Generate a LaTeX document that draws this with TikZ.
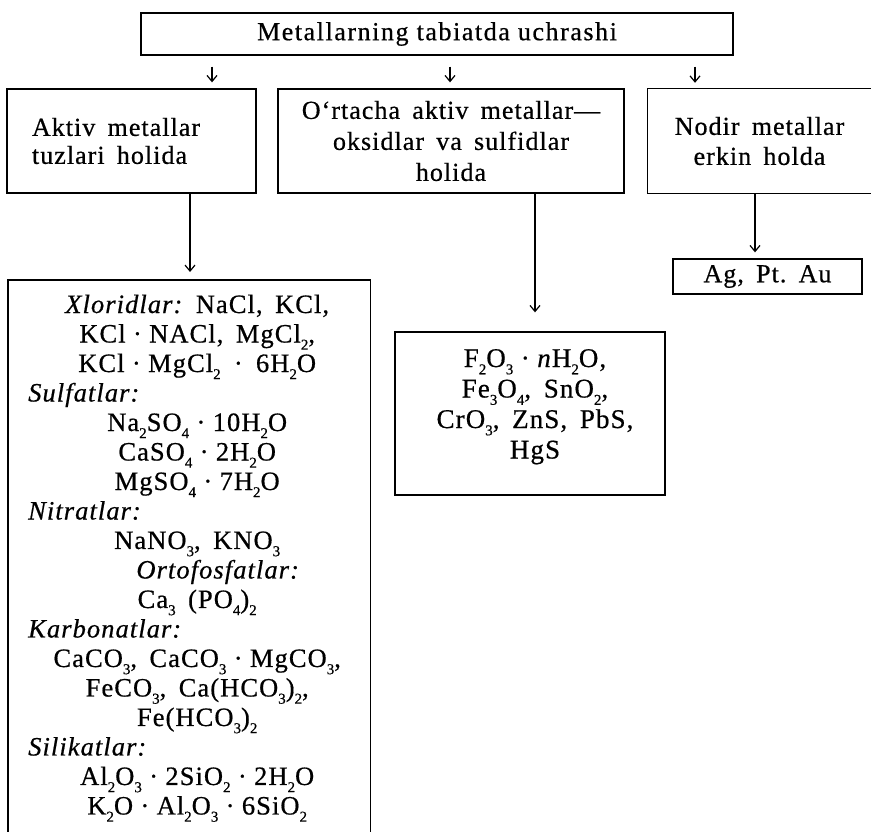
\documentclass[tikz,border=0pt]{standalone}
\usepackage{fontspec}
\setmainfont{Liberation Serif}[LetterSpace=4,FakeBold=0.6]
\newfontfamily\titlefont{Liberation Serif}[LetterSpace=6,FakeBold=0.6]
\usetikzlibrary{arrows.meta}
\newcommand\sbs[1]{\raisebox{-0.27em}{\fontsize{15}{15}\selectfont #1}}
\newcommand\dt{\;·\;}
\newcommand\wsp{\spaceskip=.47em\xspaceskip=.47em\relax}
\newcommand\fsz[2]{\fontsize{#1}{#2}\selectfont\wsp}
\tikzset{
  line/.style={line width=1.3pt},
  box/.style={draw, line, inner sep=0pt, font=\fsz{26}{30}},
  plain/.style={inner sep=0pt, font=\fsz{26}{30}},
  arr/.style={-{Straight Barb[length=6pt,width=10pt]}, line width=1.2pt},
}
\begin{document}
\begin{tikzpicture}[x=1pt,y=-1pt]
\useasboundingbox (0,0) rectangle (871,832);
% top
\node[box, minimum width=592pt, minimum height=42pt, font=\titlefont\fontsize{26}{30}\selectfont] (top) at (437,34) {Metallarning tabiatda uchrashi};
% second row
\node[box, minimum width=249pt, minimum height=104pt, text width=199pt, align=left, font=\fsz{26}{28}] (aktiv) at (131.5,141) {\wsp Aktiv metallar\\tuzlari holida};
\node[box, minimum width=346pt, minimum height=104pt, align=center, font=\fsz{26}{31}] (ortacha) at (451,141) {O‘rtacha aktiv metallar—\\oksidlar va sulfidlar\\holida};
\node[plain, minimum width=223pt, minimum height=104pt, align=center] (nodir) at (759.5,141) {Nodir metallar\\erkin holda};
\draw[line] (nodir.north east) -- (nodir.north west) -- (nodir.south west) -- (nodir.south east);
% third row
\node[box, minimum width=189pt, minimum height=35pt] (noble) at (767.5,276.5) {Ag, Pt. Au};
\node[box, minimum width=270pt, minimum height=163pt] (oxides) at (530,413.5) {};
\node[inner sep=0pt, text width=262pt, align=center, anchor=base, font=\fsz{27}{30.5}] (oxlist) at (535,367)
  {\wsp F\sbs{2}O\sbs{3}\dt\textit{n}H\sbs{2}O,\\Fe\sbs{3}O\sbs{4}, SnO\sbs{2},\\CrO\sbs{3}, ZnS, PbS,\\HgS};
\node[inner sep=0pt, minimum width=362pt, minimum height=552pt, anchor=north west] (salts) at (8,280) {};
\draw[line] (salts.south west) -- (salts.north west) -- (salts.north east) -- (salts.south east);
\node[inner sep=0pt, text width=338pt, align=center, anchor=base west, font=\fsz{26.5}{29.5}] (saltlist) at (28,313) {\wsp
\textit{Xloridlar:} NaCl, KCl,\\
KCl\dt NACl, MgCl\sbs{2},\\
KCl\dt MgCl\sbs{2}\enspace·\enspace 6H\sbs{2}O\\
\makebox[\linewidth][l]{\textit{Sulfatlar:}}\\
Na\sbs{2}SO\sbs{4}\dt 10H\sbs{2}O\\
CaSO\sbs{4}\dt 2H\sbs{2}O\\
MgSO\sbs{4}\dt 7H\sbs{2}O\\
\makebox[\linewidth][l]{\textit{Nitratlar:}}\\
NaNO\sbs{3}, KNO\sbs{3}\\
\hspace*{42pt}\textit{Ortofosfatlar:}\\
Ca\sbs{3} (PO\sbs{4})\sbs{2}\\
\makebox[\linewidth][l]{\textit{Karbonatlar:}}\\
CaCO\sbs{3}, CaCO\sbs{3}\dt MgCO\sbs{3},\\
FeCO\sbs{3}, Ca(HCO\sbs{3})\sbs{2},\\
Fe(HCO\sbs{3})\sbs{2}\\
\makebox[\linewidth][l]{\textit{Silikatlar:}}\\
Al\sbs{2}O\sbs{3}\dt 2SiO\sbs{2}\dt 2H\sbs{2}O\\
K\sbs{2}O\dt Al\sbs{2}O\sbs{3}\dt 6SiO\sbs{2}};
% connectors
\coordinate (x1) at (212,0);
\coordinate (x2) at (450,0);
\coordinate (x3) at (695,0);
\coordinate (x4) at (190,0);
\coordinate (x5) at (535,0);
\coordinate (x6) at (755,0);
\draw[arr, shorten <=11pt, shorten >=6pt] (top.south -| x1) -- (aktiv.north -| x1);
\draw[arr, shorten <=11pt, shorten >=6pt] (top.south -| x2) -- (ortacha.north -| x2);
\draw[arr, shorten <=11pt, shorten >=6pt] (top.south -| x3) -- (nodir.north -| x3);
\draw[arr, shorten >=8pt] (aktiv.south -| x4) -- (salts.north -| x4);
\draw[arr, shorten >=19pt] (ortacha.south -| x5) -- (oxides.north -| x5);
\draw[arr, shorten >=6pt] (nodir.south -| x6) -- (noble.north -| x6);
\end{tikzpicture}
\end{document}
